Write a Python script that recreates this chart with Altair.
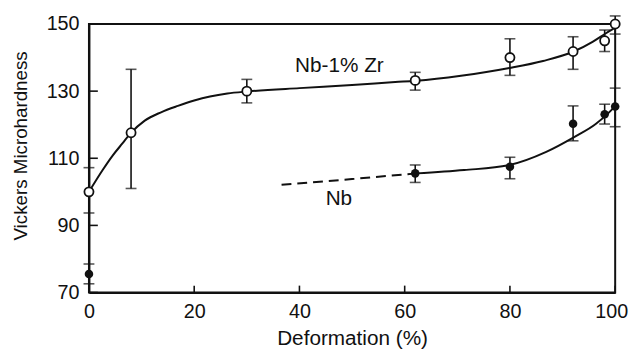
import altair as alt
import pandas as pd

# ---- data ----
zr_x = [0, 8, 30, 62, 80, 92, 98, 100]
zr_y = [100, 117.6, 130, 133.2, 140, 141.8, 145, 150]
zr_lo = [93.7, 101, 126.5, 130.3, 134.7, 136.5, 141.8, 147]
zr_hi = [107.2, 136.5, 133.5, 135.6, 145.6, 146.2, 148.2, 152.4]

nb_x = [0, 62, 80, 92, 98, 100]
nb_y = [75.5, 105.5, 107.5, 120.3, 123.1, 125.4]
nb_lo = [72.6, 102.8, 103.9, 115.2, 120.2, 119.4]
nb_hi = [78.5, 108, 110.3, 125.6, 126.1, 130.9]

zr_curve_x = [0, 2.6, 4.5, 6.4, 7.9, 10.6, 13.7, 16.9, 20, 23, 26.3, 30.2, 40, 50, 58.2, 62.2, 70.7, 79.9, 86.3, 92.1, 95.7, 98.1, 99.7]
zr_curve_y = [100, 106.5, 110.8, 114.5, 117.4, 121.2, 123.7, 125.6, 127.2, 128.4, 129.3, 129.9, 130.9, 131.8, 132.7, 133.1, 134.6, 136.9, 139, 141.8, 144.7, 147.1, 148.6]

nb_curve_x = [62.2, 71.3, 79.7, 86.9, 92.2, 96.3, 98.8, 99.7]
nb_curve_y = [105.5, 106.5, 107.9, 111.9, 116.3, 120.2, 123.6, 125]

nb_dash_x = [36.6, 50, 62.2]
nb_dash_y = [102.1, 103.8, 105.5]

label_text = ["Nb-1% Zr", "Nb"]
label_x = [47.6, 47.5]
label_y = [137.4, 97.9]

x_ticks = [0, 20, 40, 60, 80, 100]
y_ticks = [70, 90, 110, 130, 150]

FONT = "Liberation Sans"
INK = "#111111"
W, H = 533, 272

xs = alt.Scale(domain=[0, 100], nice=False, zero=False)
ys = alt.Scale(domain=[70, 150], nice=False, zero=False)

xaxis = alt.Axis(values=x_ticks, ticks=False, tickSize=0, grid=False, labelFontSize=20,
                 labelPadding=9, labelColor=INK, labelFont=FONT, labelFlush=False,
                 labelOffset={"expr": "datum.value == 100 ? -4 : 0"},
                 title="Deformation (%)", titleFont=FONT, titleFontSize=21,
                 titleFontWeight="normal", titleColor=INK, titleY=53,
                 titleBaseline="alphabetic", domainColor=INK, domainWidth=2)
yaxis = alt.Axis(values=y_ticks, ticks=False, tickSize=0, grid=False, labelFontSize=20,
                 labelPadding=10, labelColor=INK, labelFont=FONT,
                 title="Vickers Microhardness", titleFont=FONT, titleFontSize=19,
                 titleFontWeight="normal", titleColor=INK, titleX=-69, titleY=123,
                 titleAlign="center", titleBaseline="middle", titleAngle=-90,
                 domainColor=INK, domainWidth=2)


def X(f="x"):
    return alt.X(f"{f}:Q", scale=xs, axis=xaxis)


def Y(f="y"):
    return alt.Y(f"{f}:Q", scale=ys, axis=yaxis)


zr = pd.DataFrame({"x": zr_x, "y": zr_y, "lo": zr_lo, "hi": zr_hi})
nb = pd.DataFrame({"x": nb_x, "y": nb_y, "lo": nb_lo, "hi": nb_hi})
zr_curve = pd.DataFrame({"x": zr_curve_x, "y": zr_curve_y})
nb_curve = pd.DataFrame({"x": nb_curve_x, "y": nb_curve_y})
nb_dash = pd.DataFrame({"x": nb_dash_x, "y": nb_dash_y})
labels = pd.DataFrame({"x": label_x, "y": label_y, "t": label_text})
xt = pd.DataFrame({"x": x_ticks})
yt = pd.DataFrame({"y": y_ticks})

layers = []
# inward axis ticks
layers.append(alt.Chart(xt).mark_rule(color=INK, strokeWidth=1.6).encode(
    x=X(), y=alt.value(H), y2=alt.value(H - 7)))
layers.append(alt.Chart(yt).mark_rule(color=INK, strokeWidth=1.6).encode(
    y=Y(), x=alt.value(0), x2=alt.value(9)))
# curves
layers.append(alt.Chart(zr_curve).mark_line(color=INK, strokeWidth=2, interpolate="monotone").encode(
    x=X(), y=Y()))
layers.append(alt.Chart(nb_curve).mark_line(color=INK, strokeWidth=2, interpolate="monotone").encode(
    x=X(), y=Y()))
layers.append(alt.Chart(nb_dash).mark_line(color=INK, strokeWidth=2, strokeDash=[10, 6]).encode(
    x=X(), y=Y()))
# error bars
for df in (zr, nb):
    layers.append(alt.Chart(df).mark_rule(color=INK, strokeWidth=1.6).encode(
        x=X(), y=Y("lo"), y2="hi:Q"))
    layers.append(alt.Chart(df).mark_tick(color=INK, thickness=1.6, size=11, orient="horizontal").encode(
        x=X(), y=Y("lo")))
    layers.append(alt.Chart(df).mark_tick(color=INK, thickness=1.6, size=11, orient="horizontal").encode(
        x=X(), y=Y("hi")))
# points
layers.append(alt.Chart(zr).mark_point(shape="circle", size=85, filled=False, fill="white",
                                        fillOpacity=1, stroke=INK, strokeWidth=1.8, opacity=1).encode(
    x=X(), y=Y()))
layers.append(alt.Chart(nb).mark_point(shape="circle", size=75, filled=True, color=INK, opacity=1).encode(
    x=X(), y=Y()))
# labels
layers.append(alt.Chart(labels).mark_text(font=FONT, fontSize=21, color=INK, align="center",
                                          baseline="middle").encode(
    x=X(), y=Y(), text="t:N"))

chart = alt.layer(*layers).properties(
    width=W, height=H,
    background="white",
    autosize=alt.AutoSizeParams(type="none"),
    padding={"left": 82, "top": 14, "right": 14, "bottom": 56},
).configure_view(stroke=INK, strokeWidth=2)

chart.save("out.html", embed_options={"renderer": "svg", "actions": False})
